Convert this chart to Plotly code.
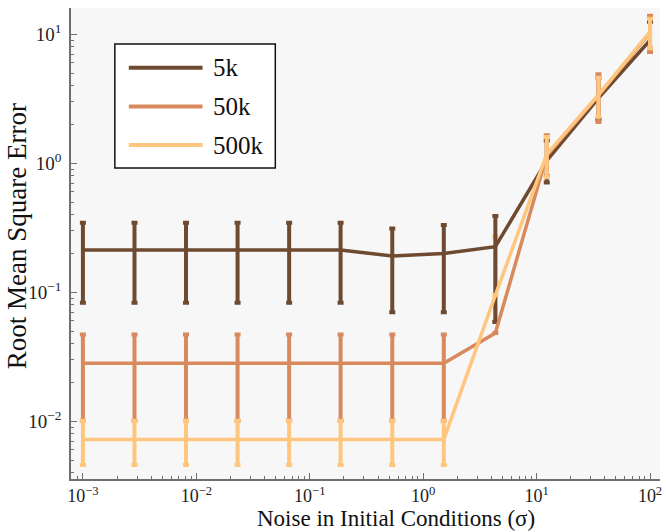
import plotly.graph_objects as go

# Noise levels (sigma of the initial-condition perturbation)
noise = [0.001, 0.00285, 0.00811, 0.0231, 0.0658, 0.187, 0.534, 1.52, 4.33, 12.3, 35.1, 100]

series_names = ["5k", "50k", "500k"]
series_colors = ["#6e4a31", "#d98a5c", "#fec67e"]

# Mean RMSE and lower / upper error bounds per training-set size
rmse_5k = [0.213, 0.213, 0.213, 0.213, 0.213, 0.213, 0.191, 0.200, 0.226, 1.05, 3.2, 9.0]
lo_5k = [0.083, 0.083, 0.083, 0.083, 0.083, 0.083, 0.070, 0.070, 0.059, 0.71, 2.2, 7.8]
hi_5k = [0.346, 0.346, 0.346, 0.346, 0.346, 0.346, 0.313, 0.333, 0.39, 1.5, 4.6, 12.5]

rmse_50k = [0.0282, 0.0282, 0.0282, 0.0282, 0.0282, 0.0282, 0.0282, 0.0282, 0.0484, 1.15, 3.35, 10.3]
lo_50k = [0.0101, 0.0101, 0.0101, 0.0101, 0.0101, 0.0101, 0.0101, 0.0101, None, 0.80, 2.09, 7.3]
hi_50k = [0.0472, 0.0472, 0.0472, 0.0472, 0.0472, 0.0472, 0.0472, 0.0472, None, 1.65, 4.9, 13.9]

rmse_500k = [0.00724, 0.00724, 0.00724, 0.00724, 0.00724, 0.00724, 0.00724, 0.00724, 0.095, 1.18, 3.4, 10.5]
lo_500k = [0.00458, 0.00458, 0.00458, 0.00458, 0.00458, 0.00458, 0.00458, 0.00458, 0.06, 0.78, 2.3, 7.8]
hi_500k = [0.0101, 0.0101, 0.0101, 0.0101, 0.0101, 0.0101, 0.0101, 0.0101, 0.27, 1.6, 4.6, 13.2]

x_tickvals = [1e-3, 1e-2, 1e-1, 1e0, 1e1, 1e2]
x_ticktext = ["10<sup>−3</sup>", "10<sup>−2</sup>", "10<sup>−1</sup>", "10<sup>0</sup>", "10<sup>1</sup>", "10<sup>2</sup>"]
y_tickvals = [1e-2, 1e-1, 1e0, 1e1]
y_ticktext = ["10<sup>−2</sup>", "10<sup>−1</sup>", "10<sup>0</sup>", "10<sup>1</sup>"]

FONT = "Liberation Serif"
W, H = 666, 532
ML, MR, MT, MB = 71, 4, 8, 53
PW, PH = W - ML - MR, H - MT - MB


def px(xpix):
    return (xpix - ML) / PW


def py(ypix):
    return (H - MB - ypix) / PH


def err_arrays(mean, lo, hi, skip=()):
    plus, minus = [], []
    for i, (m, l, h) in enumerate(zip(mean, lo, hi)):
        if l is None or i in skip:
            plus.append(None)
            minus.append(None)
        else:
            plus.append(h - m)
            minus.append(m - l)
    return plus, minus


def err_style(color, plus, minus):
    return dict(type="data", symmetric=False, array=plus, arrayminus=minus,
                color=color, thickness=4, width=3)


fig = go.Figure()

data = [(rmse_5k, lo_5k, hi_5k), (rmse_50k, lo_50k, hi_50k), (rmse_500k, lo_500k, hi_500k)]

# the 500k bar at sigma≈4.3 sits underneath the other series
under = 8
p_u, m_u = err_arrays(rmse_500k, lo_500k, hi_500k)
fig.add_trace(go.Scatter(
    x=[noise[under]], y=[rmse_500k[under]], mode="markers",
    marker=dict(size=1, opacity=0), showlegend=False, hoverinfo="skip",
    error_y=err_style(series_colors[2], [p_u[under]], [m_u[under]]),
))

for k, (name, color, (mean, lo, hi)) in enumerate(zip(series_names, series_colors, data)):
    skip = (under,) if k == 2 else ()
    plus, minus = err_arrays(mean, lo, hi, skip)
    fig.add_trace(go.Scatter(
        x=noise, y=mean, mode="lines", name=name, showlegend=False,
        line=dict(color=color, width=3.5),
        error_y=err_style(color, plus, minus),
    ))

# minor ticks at 2..9 times each decade
minor_x = [m * 10.0 ** e for e in range(-4, 3) for m in range(2, 10)]
minor_y = [m * 10.0 ** e for e in range(-3, 2) for m in range(2, 10)]

axis_common = dict(
    type="log", showgrid=False, zeroline=False, showline=True,
    linecolor="#6f6f6f", linewidth=1.5, ticks="inside", ticklen=6,
    tickcolor="#6f6f6f", tickwidth=1,
    mirror=False,
)

fig.update_xaxes(range=[-3.105, 2.088], tickvals=x_tickvals, ticktext=x_ticktext,
                 ticklabelstandoff=0,
                 tickfont=dict(family=FONT, size=18, color="#222222"),
                 minor=dict(tickvals=minor_x, ticks="inside", ticklen=3,
                            tickcolor="#6f6f6f", showgrid=False),
                 **axis_common)
fig.update_yaxes(range=[-2.447, 1.204], tickvals=y_tickvals, ticktext=y_ticktext,
                 ticklabelstandoff=4,
                 tickfont=dict(family=FONT, size=19, color="#222222"),
                 minor=dict(tickvals=minor_y, ticks="inside", ticklen=3,
                            tickcolor="#6f6f6f", showgrid=False),
                 **axis_common)

shapes = []
annotations = []

# legend box
shapes.append(dict(type="rect", xref="paper", yref="paper",
                   x0=px(115), x1=px(276), y0=py(44), y1=py(168),
                   line=dict(color="#111111", width=1.5), fillcolor="white", layer="above"))
for i, (name, color) in enumerate(zip(series_names, series_colors)):
    yy = py(67.7 + i * 38.7)
    shapes.append(dict(type="line", xref="paper", yref="paper",
                       x0=px(129), x1=px(203), y0=yy, y1=yy,
                       line=dict(color=color, width=4), layer="above"))
    annotations.append(dict(xref="paper", yref="paper", x=px(211), y=yy,
                            xanchor="left", yanchor="middle", text=name, showarrow=False,
                            font=dict(family=FONT, size=25, color="#111111")))

# axis titles
annotations.append(dict(xref="paper", yref="paper", x=px(397), y=py(532),
                        xanchor="center", yanchor="bottom", showarrow=False, borderpad=0,
                        text="Noise in Initial Conditions (σ)",
                        font=dict(family=FONT, size=23, color="#111111")))
annotations.append(dict(xref="paper", yref="paper", x=px(17), y=py(236),
                        xanchor="center", yanchor="middle", showarrow=False, textangle=-90,
                        text="Root Mean Square Error",
                        font=dict(family=FONT, size=27, color="#111111")))

fig.update_layout(
    width=W, height=H,
    margin=dict(l=ML, r=MR, t=MT, b=MB),
    paper_bgcolor="white", plot_bgcolor="#f7f7f7",
    showlegend=False,
    shapes=shapes, annotations=annotations,
)

fig.write_html("out.html")
